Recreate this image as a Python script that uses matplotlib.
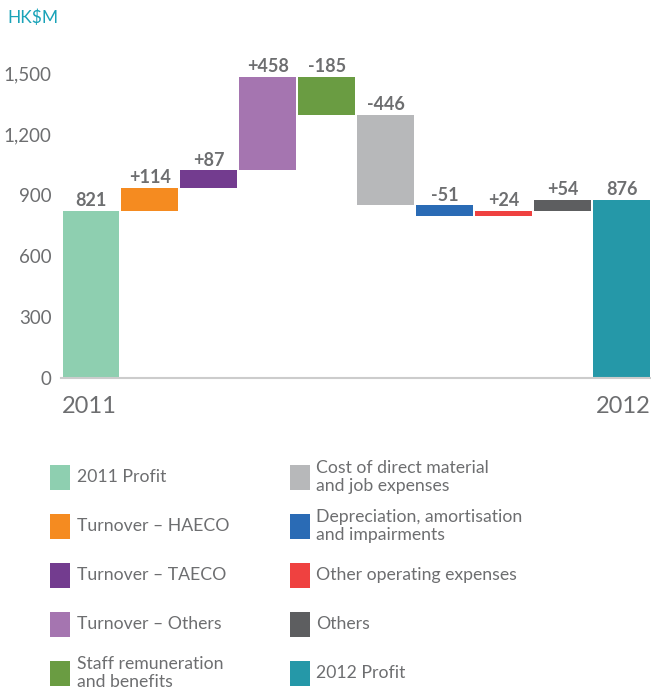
import matplotlib
matplotlib.use("Agg")
import matplotlib.pyplot as plt
from matplotlib.patches import Rectangle

plt.rcParams["font.family"] = ["Lato", "DejaVu Sans"]

# Profit bridge, HK$M
categories = ["2011 Profit", "Turnover \u2013 HAECO", "Turnover \u2013 TAECO",
              "Turnover \u2013 Others", "Staff remuneration\nand benefits",
              "Cost of direct material\nand job expenses",
              "Depreciation, amortisation\nand impairments",
              "Other operating expenses", "Others", "2012 Profit"]
start_value = 821
changes = [114, 87, 458, -185, -446, -51, 24, 54]
end_value = 876
colors = ["#8ecfb0", "#f58b20", "#733c8f", "#a575b0", "#6a9c42",
          "#b7b8ba", "#2a6bb5", "#ef4140", "#5d5e60", "#2598a8"]
y_ticks = [0, 300, 600, 900, 1200, 1500]
x_labels = ["2011", "2012"]

W, H = 651, 698
fig = plt.figure(figsize=(W / 100, H / 100), dpi=100)

def fx(px):
    return px / W

def fy(py):
    return 1 - py / H

grey = "#6d6e70"
ymax = 1600
base_px, top_px = 378, 378 - 1600 * (305 / 1500)
ax = fig.add_axes([fx(61.5), fy(base_px), 1 - fx(61.5), (base_px - top_px) / H])

# Floating bars
bottoms, heights, labels = [0], [start_value], [f"{start_value}"]
level = start_value
for c in changes:
    bottoms.append(level if c >= 0 else level + c)
    heights.append(abs(c))
    labels.append(f"{c:+d}")
    level += c
bottoms.append(0)
heights.append(end_value)
labels.append(f"{end_value}")

xs = list(range(len(heights)))
ax.bar(xs, heights, bottom=bottoms, width=0.965, color=colors, linewidth=0)
for x, b, h, t in zip(xs, bottoms, heights, labels):
    ax.text(x, b + h + 8, t, ha="center", va="bottom", fontsize=13,
            fontweight="bold", color=grey)

ax.set_xlim(-0.5, len(xs) - 0.5)
ax.set_ylim(0, ymax)
for s in ["top", "right", "left"]:
    ax.spines[s].set_visible(False)
ax.spines["bottom"].set_color("#cccccc")
ax.spines["bottom"].set_linewidth(1.5)
ax.set_yticks(y_ticks)
ax.set_yticklabels([f"{v:,}" for v in y_ticks])
ax.tick_params(axis="y", length=0, pad=7, labelsize=13.5, labelcolor=grey)
ax.set_xticks([])

ax.annotate(x_labels[0], (-0.5, 0), xytext=(0, -25), textcoords="offset points",
            ha="left", va="baseline", fontsize=17, color=grey)
ax.annotate(x_labels[1], (len(xs) - 0.5, 0), xytext=(0, -25),
            textcoords="offset points", ha="right", va="baseline",
            fontsize=17, color=grey)

fig.text(fx(7), fy(18), "HK$M", ha="left", va="center", fontsize=12.5,
         color="#1aa3b8")

# Legend in two columns
row_y = [477, 526, 575, 624, 673]
cols = [(50, 77), (290, 316)]
for i, (name, col) in enumerate(zip(categories, colors)):
    sx, tx = cols[i // 5]
    cy = row_y[i % 5]
    fig.patches.append(Rectangle((fx(sx), fy(cy + 12.5)), 20 / W, 25 / H,
                                 transform=fig.transFigure, color=col,
                                 linewidth=0))
    fig.text(fx(tx), fy(cy), name, ha="left", va="center", fontsize=12.7,
             color=grey, linespacing=1.2)

fig.savefig("out.png", dpi=100)
